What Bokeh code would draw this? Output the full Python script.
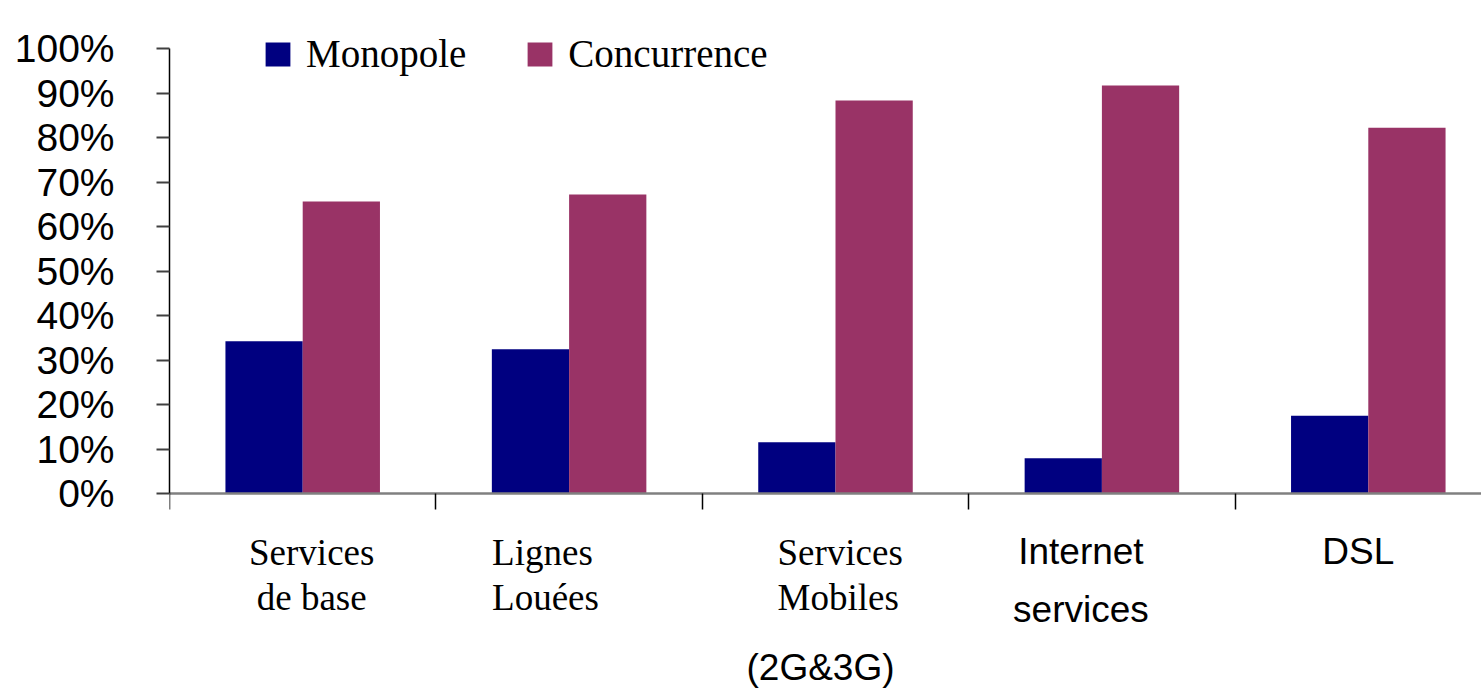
from bokeh.plotting import figure
from bokeh.models import (Range1d, FixedTicker, NumeralTickFormatter, Label,
                          Legend, LegendItem, ColumnDataSource)
from bokeh.embed import file_html
from bokeh.resources import INLINE

# ---- data ----
categories = ["Services de base", "Lignes Louées", "Services Mobiles", "Internet services", "DSL"]
monopole = [0.342, 0.324, 0.115, 0.079, 0.175]
concurrence = [0.656, 0.672, 0.883, 0.917, 0.822]
y_ticks = [0.0, 0.1, 0.2, 0.3, 0.4, 0.5, 0.6, 0.7, 0.8, 0.9, 1.0]
series_names = ["Monopole", "Concurrence"]

# category label lines as shown (per category)
cat_label_lines = [["Services", "de base"], ["Lignes", "Louées"],
                   ["Services", "Mobiles", "(2G&3G)"], ["Internet", "services"], ["DSL"]]

# ---- style ----
NAVY = "#000080"
PLUM = "#993366"
SERIF = "Liberation Serif"
SANS = "Liberation Sans"

W, H = 1481, 688
LEFT = 169
TOP100 = 48                  # pixel row of 100%
PX_PER_UNIT = 445.0          # pixels for 0% -> 100%
ZERO_PX = TOP100 + PX_PER_UNIT
CAT_PX = 266.4
x_end = (W - LEFT) / CAT_PX
y_start = -(H - ZERO_PX) / PX_PER_UNIT
y_end = 1 + TOP100 / PX_PER_UNIT

p = figure(width=W, height=H, output_backend="svg", toolbar_location=None,
           x_range=Range1d(0, x_end), y_range=Range1d(y_start, y_end),
           min_border_left=LEFT, min_border_right=0, min_border_top=0,
           min_border_bottom=0)
p.outline_line_color = None
p.grid.visible = False
p.background_fill_color = "white"
p.border_fill_color = "white"

idx = list(range(len(categories)))
bw = 0.29
src = ColumnDataSource(dict(
    xm=[i + 0.5 - bw / 2 for i in idx],
    xc=[i + 0.5 + bw / 2 for i in idx],
    mono=monopole, conc=concurrence))
r1 = p.vbar(x="xm", top="mono", width=bw, source=src, fill_color=NAVY, line_color=None)
r2 = p.vbar(x="xc", top="conc", width=bw, source=src, fill_color=PLUM, line_color=None)

# y axis
ya = p.yaxis[0]
ya.ticker = FixedTicker(ticks=y_ticks)
ya.bounds = (0, 1)
ya.formatter = NumeralTickFormatter(format="0%")
ya.major_label_text_font = SANS
ya.major_label_text_font_size = "39px"
ya.major_label_text_color = "black"
ya.major_label_standoff = 42
ya.axis_line_color = "black"
ya.axis_line_width = 1.5
ya.major_tick_line_color = "#404040"
ya.major_tick_line_width = 2
ya.major_tick_out = 13
ya.major_tick_in = 0
ya.minor_tick_line_color = None

# x axis drawn at the 0% line (category boundary ticks, no tick labels)
xa = p.xaxis[0]
xa.fixed_location = 0
xa.ticker = FixedTicker(ticks=list(range(len(categories))))
xa.major_label_overrides = {i: "" for i in range(len(categories))}
xa.axis_line_color = "#808080"
xa.axis_line_width = 2.5
xa.major_tick_line_color = "black"
xa.major_tick_line_width = 1.5
xa.major_tick_out = 16
xa.major_tick_in = 0
xa.minor_tick_line_color = None

# category labels (one Label per line)
label_fonts = [[SERIF, SERIF], [SERIF, SERIF], [SERIF, SERIF, SANS], [SANS, SANS], [SANS]]
label_align = [["center"] * 2, ["left"] * 2, ["left", "left", "center"], ["center"] * 2, ["center"]]
label_dx = [[9, 9], [-77, -77], [-58, -58, -15], [-21, -21], [-10]]
line_px = [[552, 597], [552, 597], [552, 597, 667], [551, 609], [551]]
for i, lines in enumerate(cat_label_lines):
    for j, txt in enumerate(lines):
        ydata = -(line_px[i][j] - ZERO_PX) / PX_PER_UNIT
        p.add_layout(Label(x=i + 0.5, y=ydata, x_offset=label_dx[i][j], text=txt,
                           text_font=label_fonts[i][j], text_font_size="37px",
                           text_align=label_align[i][j], text_baseline="middle",
                           text_color="black"))

legend = Legend(items=[LegendItem(label=series_names[0], renderers=[r1]),
                       LegendItem(label=series_names[1], renderers=[r2])],
                orientation="horizontal", location=(93, 612),
                label_text_font=SERIF, label_text_font_size="39px",
                label_text_color="black", glyph_width=31, glyph_height=30,
                label_standoff=13, spacing=58, padding=17, margin=0,
                border_line_color=None, background_fill_color="white",
                background_fill_alpha=1.0)
p.add_layout(legend, "center")

open("out.html", "w").write(file_html(p, INLINE))
